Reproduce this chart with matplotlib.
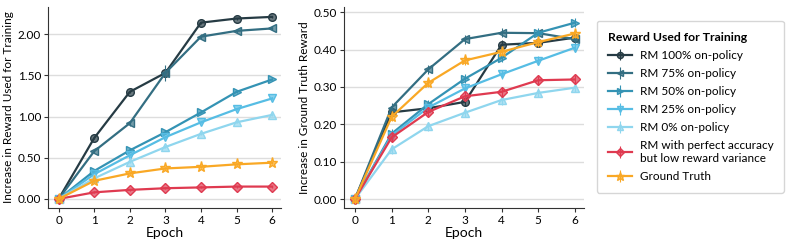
import matplotlib
matplotlib.use("Agg")
import matplotlib.pyplot as plt

plt.rcParams['font.family'] = ['Lato', 'DejaVu Sans']

epochs = [0, 1, 2, 3, 4, 5, 6]

labels = ["RM 100% on-policy", "RM 75% on-policy", "RM 50% on-policy",
          "RM 25% on-policy", "RM 0% on-policy",
          "RM with perfect accuracy\nbut low reward variance", "Ground Truth"]
colors = ["#263b44", "#336e82", "#3493b4", "#56bde4", "#8fd6ee", "#df3a50", "#f9a825"]
markers = ["o", "<", ">", "v", "^", "D", "*"]

# increase in reward used for training
train_rm100 = [0, 0.74, 1.30, 1.53, 2.14, 2.19, 2.21]
train_rm75 = [0, 0.58, 0.92, 1.53, 1.97, 2.04, 2.07]
train_rm50 = [0, 0.34, 0.59, 0.81, 1.05, 1.30, 1.45]
train_rm25 = [0, 0.30, 0.53, 0.75, 0.93, 1.09, 1.22]
train_rm0 = [0, 0.25, 0.45, 0.63, 0.79, 0.93, 1.02]
train_perfect = [0, 0.08, 0.11, 0.13, 0.14, 0.15, 0.15]
train_gt = [0, 0.22, 0.31, 0.37, 0.39, 0.42, 0.44]
train_err75 = [0, 0.02, 0.03, 0.10, 0.03, 0.02, 0.02]

# increase in ground truth reward
gt_rm100 = [0, 0.232, 0.243, 0.260, 0.413, 0.418, 0.432]
gt_rm75 = [0, 0.245, 0.347, 0.428, 0.445, 0.444, 0.428]
gt_rm50 = [0, 0.175, 0.254, 0.322, 0.378, 0.445, 0.472]
gt_rm25 = [0, 0.170, 0.245, 0.296, 0.334, 0.370, 0.405]
gt_rm0 = [0, 0.133, 0.195, 0.231, 0.265, 0.284, 0.298]
gt_perfect = [0, 0.165, 0.233, 0.275, 0.287, 0.318, 0.320]
gt_gt = [0, 0.220, 0.311, 0.371, 0.394, 0.420, 0.443]

train_series = [train_rm100, train_rm75, train_rm50, train_rm25, train_rm0, train_perfect, train_gt]
gt_series = [gt_rm100, gt_rm75, gt_rm50, gt_rm25, gt_rm0, gt_perfect, gt_gt]

fig = plt.figure(figsize=(7.93, 2.46), dpi=100)
ax1 = fig.add_axes([48/793, 38/246, 233/793, 201/246])
ax2 = fig.add_axes([344/793, 38/246, 240/793, 201/246])


def draw(ax, series, ylim, ylabel, ticks):
    for i, ys in enumerate(series):
        err = train_err75 if (series is train_series and i == 1) else [0.012] * len(ys)
        ax.errorbar(epochs, ys, yerr=err, color=colors[i], marker=markers[i],
                    markersize=8 if markers[i] == "*" else 5.5, lw=1.6,
                    mec=colors[i], mfc=colors[i] + "b0", elinewidth=0.8, capsize=0,
                    label=labels[i], zorder=3 + i * 0.1)
    ax.set_xlim(-0.3, 6.25)
    ax.set_ylim(*ylim)
    ax.set_yticks(ticks)
    ax.set_yticklabels(["%.2f" % t for t in ticks])
    ax.set_xticks(epochs)
    ax.set_xlabel("Epoch", fontsize=10, labelpad=1)
    ax.set_ylabel(ylabel, fontsize=8.5, labelpad=3)
    ax.tick_params(labelsize=8.5, length=3, color="#333333", pad=2)
    ax.grid(axis="y", color="#dddddd", lw=1)
    ax.set_axisbelow(True)
    for s in ["top", "right"]:
        ax.spines[s].set_visible(False)
    for s in ["left", "bottom"]:
        ax.spines[s].set_color("#333333")


draw(ax1, train_series, (-0.11, 2.33), "Increase in Reward Used for Training",
     [0, 0.5, 1.0, 1.5, 2.0])
draw(ax2, gt_series, (-0.024, 0.514), "Increase in Ground Truth Reward",
     [0, 0.1, 0.2, 0.3, 0.4, 0.5])

handles, labs = ax1.get_legend_handles_labels()
leg = fig.legend(handles, labs, loc="upper left", bbox_to_anchor=(597/793, 1 - 21/246),
                 title="Reward Used for Training", fontsize=8.5, title_fontsize=8.8,
                 frameon=True, edgecolor="#cccccc", fancybox=True,
                 handlelength=2.1, labelspacing=0.6, borderpad=0.9, handletextpad=0.6,
                 borderaxespad=0, markerscale=0.8)
leg.get_title().set_fontweight("bold")
leg._legend_box.align = "left"

fig.savefig("out.png", dpi=100)
